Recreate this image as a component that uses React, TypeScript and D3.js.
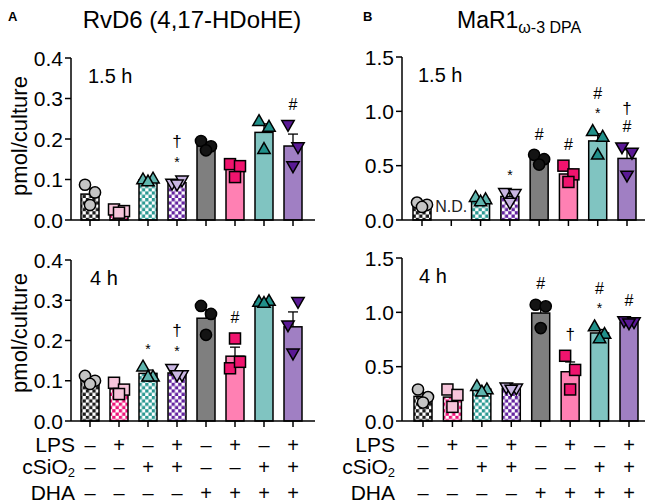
import React from "react";
import * as d3 from "d3";

// treatment groups, left to right
const groups = ["Veh", "LPS", "cSiO2", "cSiO2+LPS", "DHA", "DHA+LPS", "DHA+cSiO2", "DHA+cSiO2+LPS"];
const lpsRow = ["–", "+", "–", "+", "–", "+", "–", "+"];
const sio2Row = ["–", "–", "+", "+", "–", "–", "+", "+"];
const dhaRow = ["–", "–", "–", "–", "+", "+", "+", "+"];

// replicate values (pmol/culture); order = left, right, centre
const rvd6At1h5 = [
  [0.087, 0.068, 0.037],
  [0.026, 0.022, 0.018],
  [0.1, 0.102, 0.095],
  [0.09, 0.098, 0.088],
  [0.195, 0.182, 0.172],
  [0.138, 0.133, 0.106],
  [0.244, 0.23, 0.175],
  [0.235, 0.18, 0.133],
];
const rvd6At4h = [
  [0.112, 0.1, 0.092],
  [0.095, 0.078, 0.067],
  [0.135, 0.11, 0.11],
  [0.13, 0.114, 0.114],
  [0.286, 0.266, 0.214],
  [0.131, 0.147, 0.205],
  [0.296, 0.298, 0.293],
  [0.238, 0.296, 0.168],
];
const mar1At1h5 = [
  [0.16, 0.14, 0.12],
  [],
  [0.21, 0.19, 0.17],
  [0.25, 0.24, 0.16],
  [0.6, 0.56, 0.51],
  [0.5, 0.42, 0.35],
  [0.818, 0.765, 0.6],
  [0.67, 0.62, 0.41],
];
const mar1At4h = [
  [0.29, 0.22, 0.17],
  [0.29, 0.24, 0.13],
  [0.32, 0.29, 0.27],
  [0.31, 0.3, 0.29],
  [1.07, 1.055, 0.855],
  [0.6, 0.47, 0.29],
  [0.87, 0.8, 0.76],
  [0.92, 0.91, 0.9],
];

// significance marks, bottom to top
const rvd6Marks1h5 = [[], [], [], ["*", "†"], [], [], [], ["#"]];
const rvd6Marks4h = [[], [], ["*"], ["*", "†"], [], ["#"], [], []];
const mar1Marks1h5 = [[], [], [], ["*"], ["#"], ["#"], ["*", "#"], ["#", "†"]];
const mar1Marks4h = [[], [], [], [], ["#"], ["†"], ["*", "#"], ["#"]];

const rvd6Ticks = [0, 0.1, 0.2, 0.3, 0.4];
const mar1Ticks = [0, 0.5, 1.0, 1.5];

const FONT = "'Liberation Sans', Arial, Helvetica, sans-serif";

const checkColors = ["#1c1c1c", "#f0147a", "#2b9a93", "#6424a0"];
const barFill = ["url(#chk0)", "url(#chk1)", "url(#chk2)", "url(#chk3)", "#7f7f7f", "#ff80b3", "#80c4c1", "#a07fc3"];
const pointFill = ["#c4c4c4", "#f6c4da", "#5fb5ae", "#c9b6e2", "#141414", "#f0146e", "#21908a", "#5a1995"];
const shapeOf = ["circle", "square", "up", "down", "circle", "square", "up", "down"];
const jitter = [-5, 5, 0];

function Marker({ shape, x, y, fill }) {
  const common = { fill, stroke: "#000", strokeWidth: 1.5 };
  if (shape === "circle") return <circle cx={x} cy={y} r={5.6} {...common} />;
  if (shape === "square") return <rect x={x - 5.5} y={y - 5.5} width={11} height={11} {...common} />;
  if (shape === "up") return <path d={`M${x},${y - 6.5}L${x + 6.2},${y + 4.3}L${x - 6.2},${y + 4.3}Z`} {...common} />;
  return <path d={`M${x},${y + 6.5}L${x + 6.2},${y - 4.3}L${x - 6.2},${y - 4.3}Z`} {...common} />;
}

const markShift = { "*": 0.57, "#": 0.36, "†": 0.3 };
const markSize = { "*": 14, "#": 16, "†": 17 };

function Panel({ values, marks, ticks, axisX, axisEnd, c0, c1, y0, y1, time, timeX, showND }) {
  const y = d3.scaleLinear().domain([0, ticks[ticks.length - 1]]).range([y0, y1]);
  const x = d3.scalePoint().domain(groups).range([c0, c1]);
  const fmt = d3.format(".1f");
  const bw = 18;
  return (
    <g>
      {groups.map((g, i) => {
        const pts = values[i];
        if (!pts.length) return null;
        const m = d3.mean(pts);
        const sem = d3.deviation(pts) / Math.sqrt(pts.length);
        const cx = x(g);
        return (
          <g key={g}>
            <rect x={cx - bw / 2} y={y(m)} width={bw} height={y0 - y(m)} fill={barFill[i]} stroke="#000" strokeWidth={1.5} />
            <line x1={cx} x2={cx} y1={y(m)} y2={y(m + sem)} stroke="#000" strokeWidth={1.3} />
            <line x1={cx - 5} x2={cx + 5} y1={y(m + sem)} y2={y(m + sem)} stroke="#000" strokeWidth={1.3} />
            {pts.map((v, j) => (
              <Marker key={j} shape={shapeOf[i]} x={cx + jitter[j]} y={y(v)} fill={pointFill[i]} />
            ))}
          </g>
        );
      })}
      {groups.map((g, i) => {
        const pts = values[i];
        if (!pts.length || !marks[i].length) return null;
        const m = d3.mean(pts);
        const sem = d3.deviation(pts) / Math.sqrt(pts.length);
        const top = Math.min(y(d3.max(pts)) - 6, y(m + sem));
        return marks[i].map((s, k) => {
          const cy = top - 15 - k * 17;
          return (
            <text key={g + k} x={x(g)} y={cy + markShift[s] * markSize[s]} textAnchor="middle" fontSize={markSize[s]} fontFamily={FONT} fill="#000">
              {s}
            </text>
          );
        });
      })}
      {showND && (
        <text x={x(groups[1])} y={y0 - 8} textAnchor="middle" fontSize={16} fontFamily={FONT} fill="#222">
          N.D.
        </text>
      )}
      {/* axes */}
      <line x1={axisX} x2={axisX} y1={y1} y2={y0} stroke="#000" strokeWidth={1.5} />
      <line x1={axisX} x2={axisEnd} y1={y0} y2={y0} stroke="#000" strokeWidth={1.5} />
      {ticks.map((t) => (
        <g key={t}>
          <line x1={axisX - 6} x2={axisX} y1={y(t)} y2={y(t)} stroke="#000" strokeWidth={1.5} />
          <text x={axisX - 8} y={y(t)} dy="0.36em" textAnchor="end" fontSize={21} fontFamily={FONT} fill="#000">
            {fmt(t)}
          </text>
        </g>
      ))}
      {groups.map((g) => (
        <line key={g} x1={x(g)} x2={x(g)} y1={y0} y2={y0 + 6} stroke="#000" strokeWidth={1.5} />
      ))}
      <text x={timeX} y={y1 + 25} fontSize={20} fontFamily={FONT} fill="#000">
        {time}
      </text>
    </g>
  );
}

const rowBaselines = [452, 474, 500];

function SignRows({ c0, c1 }) {
  const x = d3.scalePoint().domain(groups).range([c0, c1]);
  const rows = [lpsRow, sio2Row, dhaRow];
  return (
    <g fontFamily={FONT} fontSize={20} fill="#000">
      {rows.map((signs, ri) =>
        signs.map((s, i) => (
          <text key={ri + "-" + i} x={x(groups[i])} y={rowBaselines[ri]} textAnchor="middle">
            {s}
          </text>
        ))
      )}
    </g>
  );
}

function RowLabels({ right }) {
  return (
    <g fontFamily={FONT} fontSize={21} textAnchor="end">
      <text x={right} y={rowBaselines[0]}>LPS</text>
      <text x={right} y={rowBaselines[1]}>cSiO<tspan fontSize={13} dy={3}>2</tspan></text>
      <text x={right} y={rowBaselines[2]}>DHA</text>
    </g>
  );
}

export default function App() {
  return (
    <svg width={649} height={504} style={{ position: "absolute", left: 0, top: 0, background: "#fff" }}>
      <defs>
        {checkColors.map((c, i) => (
          <pattern key={i} id={`chk${i}`} width={6.6} height={6.6} patternUnits="userSpaceOnUse">
            <rect width={6.6} height={6.6} fill="#fff" />
            <rect width={3.3} height={3.3} fill={c} />
            <rect x={3.3} y={3.3} width={3.3} height={3.3} fill={c} />
          </pattern>
        ))}
      </defs>

      <text x={8} y={21} fontSize={13} fontWeight="bold" fontFamily={FONT}>A</text>
      <text x={363} y={21} fontSize={13} fontWeight="bold" fontFamily={FONT}>B</text>
      <text x={192} y={28} textAnchor="middle" fontSize={24} fontFamily={FONT}>RvD6 (4,17-HDoHE)</text>
      <text x={457} y={28} fontSize={23} fontFamily={FONT}>
        MaR1<tspan fontSize={16} dy={5}>ω-3 DPA</tspan>
      </text>

      <text transform="translate(27,136) rotate(-90)" textAnchor="middle" fontSize={22} fontFamily={FONT}>pmol/culture</text>
      <text transform="translate(27,333) rotate(-90)" textAnchor="middle" fontSize={22} fontFamily={FONT}>pmol/culture</text>

      <Panel values={rvd6At1h5} marks={rvd6Marks1h5} ticks={rvd6Ticks} axisX={71} axisEnd={315} c0={90} c1={293} y0={220} y1={58} time="1.5 h" timeX={88} />
      <Panel values={rvd6At4h} marks={rvd6Marks4h} ticks={rvd6Ticks} axisX={71} axisEnd={315} c0={90} c1={293} y0={421} y1={260} time="4 h" timeX={90} />
      <Panel values={mar1At1h5} marks={mar1Marks1h5} ticks={mar1Ticks} axisX={402} axisEnd={645} c0={422} c1={627} y0={220} y1={57} time="1.5 h" timeX={418} showND />
      <Panel values={mar1At4h} marks={mar1Marks4h} ticks={mar1Ticks} axisX={402} axisEnd={645} c0={423} c1={629} y0={421} y1={258} time="4 h" timeX={419} />

      <RowLabels right={75} />
      <RowLabels right={395} />
      <SignRows c0={90} c1={293} />
      <SignRows c0={423} c1={629} />
    </svg>
  );
}
